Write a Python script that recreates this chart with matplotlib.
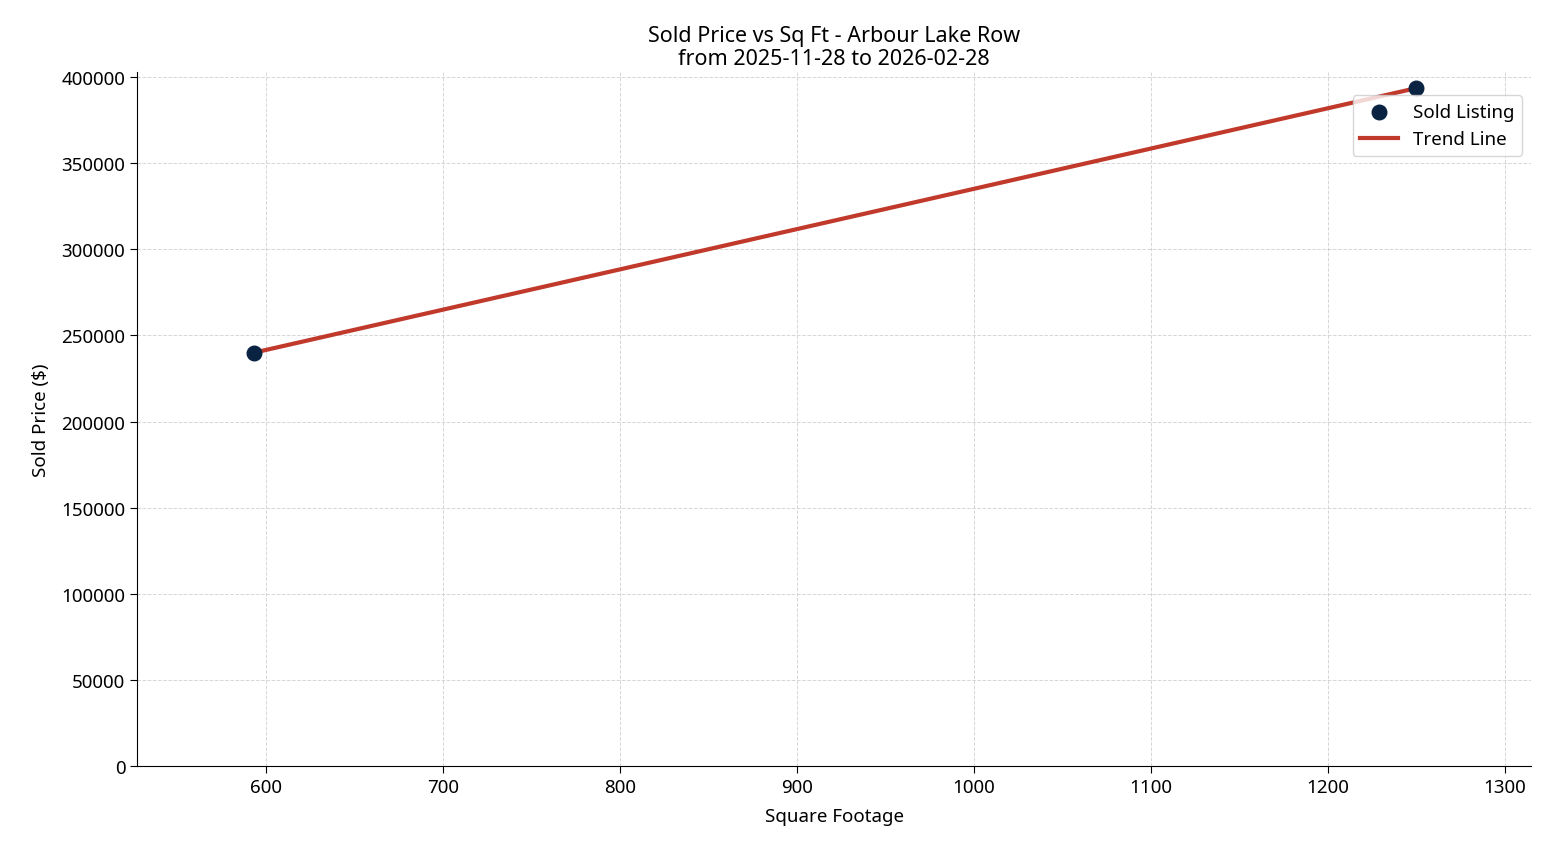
import matplotlib
matplotlib.use("Agg")
import matplotlib.pyplot as plt
import numpy as np

plt.rcParams['font.family'] = ['Noto Sans', 'DejaVu Sans']

sqft = [593, 1250]
price = [240000, 393600]

fig = plt.figure(figsize=(15.47, 8.45), dpi=100)
ax = fig.add_axes([0.0886, 0.0923, 0.9011, 0.8213])
ax.scatter(sqft, price, s=110, color='#0b2342', zorder=3, label='Sold Listing')
coef = np.polyfit(sqft, price, 1)
xs = np.array([min(sqft), max(sqft)])
ax.plot(xs, np.polyval(coef, xs), color='#c0392b', lw=3, label='Trend Line', zorder=2)
ax.set_xlim(527, 1315)
ax.set_ylim(0, 403000)
ax.set_yticks(range(0, 400001, 50000))
ax.grid(True, ls='--', lw=0.7, color='#cccccc', alpha=0.8)
ax.set_axisbelow(True)
for s in ['top', 'right']:
    ax.spines[s].set_visible(False)
ax.tick_params(labelsize=13.5, length=5)
ax.set_xlabel('Square Footage', fontsize=13.5, labelpad=8)
ax.set_ylabel('Sold Price ($)', fontsize=13.5, labelpad=8)
ax.set_title('Sold Price vs Sq Ft - Arbour Lake Row\nfrom 2025-11-28 to 2026-02-28', fontsize=15.5, linespacing=1.1)
ax.legend(loc='upper right', fontsize=13.5, bbox_to_anchor=(1.0, 0.98))
fig.savefig('out.png', dpi=100)
